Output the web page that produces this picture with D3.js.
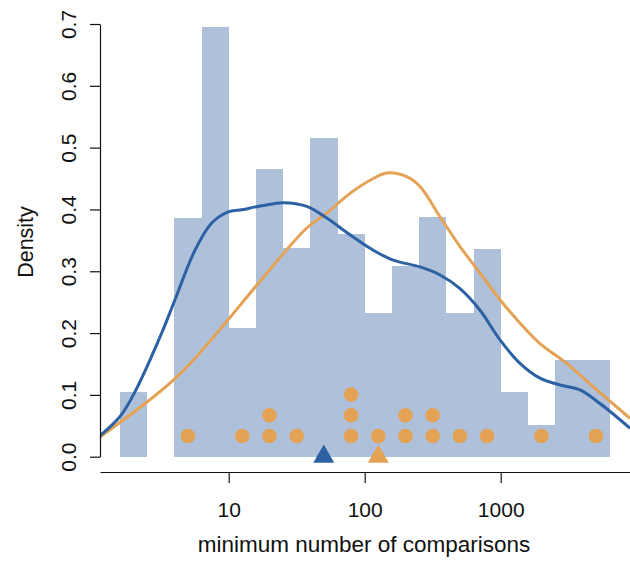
<!DOCTYPE html>
<html>
<head>
<meta charset="utf-8">
<script src="https://cdn.jsdelivr.net/npm/d3@7"></script>
<style>
  body { margin: 0; background: #fff; }
  svg { display: block; font-family: "Liberation Sans", Arial, Helvetica, sans-serif; }
</style>
</head>
<body>
<svg id="chart" width="630" height="565"></svg>
<script>
// histogram bins (log10 of the lower edge, bin width 0.2) and densities
var binStart = [0.2, 0.4, 0.6, 0.8, 1.0, 1.2, 1.4, 1.6, 1.8, 2.0, 2.2, 2.4, 2.6, 2.8, 3.0, 3.2, 3.4, 3.6];
var binDensity = [0.104, 0, 0.386, 0.695, 0.208, 0.465, 0.337, 0.516, 0.36, 0.232, 0.309, 0.387, 0.232, 0.336, 0.105, 0.052, 0.156, 0.156];
var binWidth = 0.2;

// orange points (log10 of comparisons), stacked when equal
var dotExp = [0.7, 1.1, 1.3, 1.3, 1.5, 1.9, 1.9, 1.9, 2.1, 2.3, 2.3, 2.5, 2.5, 2.7, 2.9, 3.3, 3.7];
var dotStep = 0.0335;

// blue density curve: [log10 x, density]
var blueCurve = [
  [0.054, 0.034], [0.201, 0.065], [0.311, 0.105], [0.507, 0.200], [0.605, 0.254],
  [0.752, 0.334], [0.875, 0.378], [0.997, 0.396], [1.083, 0.399], [1.243, 0.406],
  [1.401, 0.411], [1.574, 0.405], [1.721, 0.386], [1.892, 0.359], [2.063, 0.334],
  [2.210, 0.318], [2.407, 0.307], [2.554, 0.294], [2.701, 0.272], [2.848, 0.237],
  [2.995, 0.189], [3.142, 0.151], [3.289, 0.127], [3.436, 0.116], [3.583, 0.108],
  [3.730, 0.086], [3.951, 0.046]
];

// orange curve: [log10 x, density]
var orangeCurve = [
  [0.054, 0.032], [0.385, 0.086], [0.593, 0.124], [0.752, 0.159], [0.997, 0.222],
  [1.243, 0.287], [1.574, 0.370], [1.721, 0.394],
  [1.892, 0.426], [2.063, 0.450], [2.162, 0.459], [2.309, 0.453], [2.407, 0.437],
  [2.554, 0.388], [2.701, 0.340], [2.848, 0.297], [2.995, 0.254], [3.142, 0.216],
  [3.289, 0.183], [3.485, 0.151], [3.681, 0.113], [3.951, 0.062]
];

// triangles marking the two medians (comparisons)
var medians = [
  { value: 50, color: "#2c62a3" },
  { value: 126, color: "#e3a254" }
];

var xTicks = [10, 100, 1000];
var yTicks = [0, 0.1, 0.2, 0.3, 0.4, 0.5, 0.6, 0.7];

var barColor = "#aec0da";
var blue = "#2c62a3";
var orange = "#e3a254";

var svg = d3.select("#chart");

var x = d3.scaleLog().domain([10, 1000]).range([228.7, 500.7]);
var xLo = x.invert(100), xHi = x.invert(630);
x.domain([xLo, xHi]).range([100, 630]);

var y = d3.scaleLinear().domain([0, 0.7]).range([456.7, 24]);

var px = function(e) { return x(Math.pow(10, e)); };

svg.append("clipPath").attr("id", "plot-clip")
  .append("rect").attr("x", 100).attr("y", 0).attr("width", 530).attr("height", 480);

var plot = svg.append("g").attr("clip-path", "url(#plot-clip)");

// bars
plot.selectAll("rect.bar").data(binStart).enter().append("rect")
  .attr("class", "bar")
  .attr("x", function(d) { return px(d); })
  .attr("width", function(d) { return px(d + binWidth) - px(d); })
  .attr("y", function(d, i) { return y(binDensity[i]); })
  .attr("height", function(d, i) { return y(0) - y(binDensity[i]); })
  .attr("fill", barColor)
  .attr("shape-rendering", "crispEdges");

// stacked dots
var seen = {};
var dots = dotExp.map(function(e) {
  seen[e] = (seen[e] || 0) + 1;
  return { e: e, k: seen[e] };
});
plot.selectAll("circle.dot").data(dots).enter().append("circle")
  .attr("class", "dot")
  .attr("cx", function(d) { return px(d.e); })
  .attr("cy", function(d) { return y(d.k * dotStep); })
  .attr("r", 7.3)
  .attr("fill", orange);

// curves
var line = d3.line()
  .x(function(d) { return px(d[0]); })
  .y(function(d) { return y(d[1]); })
  .curve(d3.curveCatmullRom.alpha(0.5));

plot.append("path").datum(orangeCurve)
  .attr("d", line).attr("fill", "none")
  .attr("stroke", orange).attr("stroke-width", 3);

plot.append("path").datum(blueCurve)
  .attr("d", line).attr("fill", "none")
  .attr("stroke", blue).attr("stroke-width", 3);

// median triangles
plot.selectAll("path.tri").data(medians).enter().append("path")
  .attr("class", "tri")
  .attr("d", d3.symbol().type(d3.symbolTriangle).size(191))
  .attr("transform", function(d) { return "translate(" + x(d.value) + "," + y(0) + ")"; })
  .attr("fill", function(d) { return d.color; });

// y axis
var yAxis = svg.append("g").attr("transform", "translate(100,0)")
  .call(d3.axisLeft(y).tickValues(yTicks).tickSize(10).tickSizeOuter(0).tickFormat(d3.format(".1f")));
yAxis.selectAll("text")
  .attr("x", 0).attr("y", -24).attr("dy", null)
  .attr("transform", "rotate(-90)")
  .attr("text-anchor", "middle")
  .attr("fill", "#111")
  .style("font-size", "21px");

// x axis
var xAxis = svg.append("g").attr("transform", "translate(0,472)")
  .call(d3.axisBottom(x).tickValues(xTicks).tickSize(11).tickSizeOuter(0).tickFormat(d3.format("d")));
xAxis.selectAll("text")
  .attr("y", 44.7).attr("dy", null)
  .attr("fill", "#111")
  .style("font-size", "21px");

svg.selectAll(".domain, .tick line").attr("stroke", "#111").attr("stroke-width", 1.2);
svg.selectAll(".tick text").attr("font-family", null);

// axis titles
svg.append("text")
  .attr("transform", "translate(33,242) rotate(-90)")
  .attr("text-anchor", "middle")
  .attr("fill", "#111")
  .style("font-size", "21.5px")
  .text("Density");

svg.append("text")
  .attr("x", 364).attr("y", 551.7)
  .attr("text-anchor", "middle")
  .attr("fill", "#111")
  .style("font-size", "22.5px")
  .text("minimum number of comparisons");
</script>
</body>
</html>
